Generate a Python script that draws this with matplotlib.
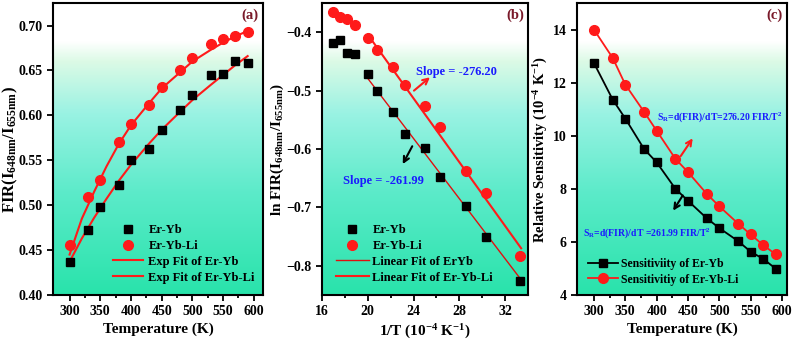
import numpy as np
import matplotlib
matplotlib.use("Agg")
import matplotlib.pyplot as plt
from matplotlib.colors import LinearSegmentedColormap

plt.rcParams['font.family'] = 'Liberation Serif'
plt.rcParams['font.weight'] = 'bold'
plt.rcParams['axes.labelweight'] = 'bold'
plt.rcParams['mathtext.fontset'] = 'custom'
plt.rcParams['mathtext.rm'] = 'Liberation Serif:bold'
plt.rcParams['mathtext.it'] = 'Liberation Serif:italic:bold'
plt.rcParams['mathtext.bf'] = 'Liberation Serif:bold'

# temperatures (K)
temp = [300, 330, 350, 380, 400, 430, 450, 480, 500, 530, 550, 570, 590]

# (a) FIR
fir_eryb = [0.437, 0.472, 0.498, 0.523, 0.550, 0.563, 0.584, 0.606, 0.623, 0.645, 0.646, 0.661, 0.658]
fir_erybli = [0.456, 0.509, 0.528, 0.570, 0.590, 0.611, 0.632, 0.650, 0.664, 0.679, 0.685, 0.688, 0.693]
fit_t = [300, 320, 340, 360, 380, 400, 430, 450, 480, 500, 530, 550, 570, 590]
fit_eryb = [0.437, 0.463, 0.486, 0.507, 0.527, 0.545, 0.569, 0.584, 0.604, 0.617, 0.634, 0.645, 0.656, 0.666]
fit_erybli = [0.445, 0.485, 0.515, 0.543, 0.568, 0.589, 0.614, 0.630, 0.648, 0.660, 0.673, 0.681, 0.688, 0.694]

# (b) ln FIR vs 1/T
inv_t = [33.33, 30.30, 28.57, 26.32, 25.00, 23.26, 22.22, 20.83, 20.00, 18.87, 18.18, 17.54, 16.95]
ln_eryb = [-0.826, -0.750, -0.697, -0.648, -0.598, -0.574, -0.537, -0.500, -0.472, -0.438, -0.436, -0.414, -0.418]
ln_erybli = [-0.784, -0.675, -0.638, -0.562, -0.527, -0.491, -0.459, -0.430, -0.410, -0.387, -0.378, -0.374, -0.366]
lin_x = [20.0, 33.4]
lin_eryb = [-0.479, -0.824]
lin_erybli = [-0.404, -0.770]

# (c) relative sensitivity
sr_eryb = [12.74, 11.36, 10.65, 9.50, 9.00, 8.00, 7.55, 6.89, 6.52, 6.03, 5.63, 5.36, 4.99]
sr_erybli = [14.00, 12.93, 11.93, 10.90, 10.19, 9.13, 8.63, 7.81, 7.34, 6.69, 6.28, 5.88, 5.53]

red = '#ff1a1a'
maroon = '#7a1a2a'
blue = '#1a1aff'

bg = LinearSegmentedColormap.from_list('bg', [
    (0.0, (0.16, 0.89, 0.67)),
    (0.35, (0.36, 0.92, 0.79)),
    (0.62, (0.60, 0.95, 0.89)),
    (0.80, (0.86, 0.98, 0.90)),
    (0.87, (1.0, 1.0, 1.0)),
    (1.0, (1.0, 1.0, 1.0))])


def style_axes(ax):
    grad = np.linspace(0, 1, 256).reshape(-1, 1)
    ax.imshow(grad, cmap=bg, origin='lower', aspect='auto', extent=[0, 1, 0, 1],
              transform=ax.transAxes, zorder=0)
    for s in ax.spines.values():
        s.set_linewidth(1.5)
    ax.tick_params(which='both', direction='out', width=1.3, labelsize=10)
    ax.tick_params(which='major', length=4)
    ax.tick_params(which='minor', length=2.5)
    ax.tick_params(axis='y', which='minor', left=False)


def bold_ticks(ax):
    for lab in ax.get_xticklabels() + ax.get_yticklabels():
        lab.set_fontweight('bold')


fig = plt.figure(figsize=(7.97, 3.45), dpi=100)

# ---- (a)
ax1 = fig.add_axes([0.0665, 0.145, 0.2635, 0.846])
style_axes(ax1)
ax1.plot(temp, fir_eryb, 's', color='black', ms=6, label='Er-Yb', zorder=3)
ax1.plot(temp, fir_erybli, 'o', color=red, ms=7, label='Er-Yb-Li', zorder=3)
ax1.plot(fit_t, fit_eryb, '-', color=red, lw=1.5, label='Exp Fit of Er-Yb', zorder=2)
ax1.plot(fit_t, fit_erybli, '-', color=red, lw=1.5, label='Exp Fit of Er-Yb-Li', zorder=2)
ax1.set_xlim(273, 615)
ax1.set_ylim(0.40, 0.725)
ax1.set_xticks([300, 350, 400, 450, 500, 550, 600])
ax1.set_xticks(np.arange(325, 600, 50), minor=True)
ax1.set_yticks([0.40, 0.45, 0.50, 0.55, 0.60, 0.65, 0.70])
ax1.set_yticklabels(['%.2f' % v for v in [0.40, 0.45, 0.50, 0.55, 0.60, 0.65, 0.70]])
bold_ticks(ax1)
ax1.set_xlabel('Temperature (K)', fontsize=11, fontweight='bold', labelpad=3)
ax1.set_ylabel(r'FIR(I$_{\mathrm{648nm}}$/I$_{\mathrm{655nm}}$)', fontsize=12,
               fontweight='bold')
ax1.yaxis.set_label_coords(-0.155, 0.5)
ax1.text(0.94, 0.96, '(a)', transform=ax1.transAxes, color=maroon, fontsize=10.5,
         fontweight='bold', ha='center', va='center')
ax1.legend(loc='lower left', bbox_to_anchor=(0.24, 0.005), frameon=False,
           prop={'weight': 'bold', 'size': 9},
           handlelength=2.4, handletextpad=0.4, labelspacing=0.3, borderpad=0.3)

# ---- (b)
ax2 = fig.add_axes([0.404, 0.145, 0.2585, 0.846])
style_axes(ax2)
ax2.plot(inv_t, ln_eryb, 's', color='black', ms=6, label='Er-Yb', zorder=3)
ax2.plot(inv_t, ln_erybli, 'o', color=red, ms=7, label='Er-Yb-Li', zorder=3)
ax2.plot(lin_x, lin_eryb, '-', color='#e01010', lw=1.0, label='Linear Fit of ErYb', zorder=2)
ax2.plot(lin_x, lin_erybli, '-', color=red, lw=1.5, label='Linear Fit of Er-Yb-Li', zorder=2)
ax2.set_xlim(16, 34)
ax2.set_ylim(-0.85, -0.35)
ax2.set_xticks([16, 20, 24, 28, 32])
ax2.set_xticks([18, 22, 26, 30], minor=True)
ax2.set_yticks([-0.8, -0.7, -0.6, -0.5, -0.4])
bold_ticks(ax2)
ax2.set_xlabel(r'1/T (10$^{-4}$ K$^{-1}$)', fontsize=11, fontweight='bold', labelpad=3)
ax2.set_ylabel(r'ln FIR(I$_{\mathrm{648nm}}$/I$_{\mathrm{655nm}}$)', fontsize=11,
               fontweight='bold')
ax2.yaxis.set_label_coords(-0.175, 0.5)
ax2.text(0.94, 0.96, '(b)', transform=ax2.transAxes, color=maroon, fontsize=10.5,
         fontweight='bold', ha='center', va='center')
ax2.text(24.2, -0.468, 'Slope = -276.20', color=blue, fontsize=9, fontweight='bold',
         ha='left', va='center')
ax2.annotate('', xy=(25.62, -0.474), xytext=(23.85, -0.503),
             arrowprops=dict(arrowstyle='->', color=red, lw=1.5))
ax2.text(21.34, -0.654, 'Slope = -261.99', color=blue, fontsize=9, fontweight='bold',
         ha='center', va='center')
ax2.annotate('', xy=(22.94, -0.630), xytext=(24.0, -0.591),
             arrowprops=dict(arrowstyle='->', color='black', lw=1.5))
ax2.legend(loc='lower left', bbox_to_anchor=(0.02, 0.005), frameon=False,
           prop={'weight': 'bold', 'size': 9},
           handlelength=2.6, handletextpad=0.3, labelspacing=0.3, borderpad=0.3)

# ---- (c)
ax3 = fig.add_axes([0.724, 0.145, 0.2635, 0.846])
style_axes(ax3)
ax3.plot(temp, sr_eryb, '-s', color='black', ms=6, lw=1.3, label='Sensitiviity of Er-Yb', zorder=3)
ax3.plot(temp, sr_erybli, '-o', color=red, ms=7, lw=1.3, label='Sensitivitiy of Er-Yb-Li', zorder=3)
ax3.set_xlim(273, 608)
ax3.set_ylim(4, 15)
ax3.set_xticks([300, 350, 400, 450, 500, 550, 600])
ax3.set_xticks(np.arange(325, 600, 50), minor=True)
ax3.set_yticks([4, 6, 8, 10, 12, 14])
bold_ticks(ax3)
ax3.set_xlabel('Temperature (K)', fontsize=11, fontweight='bold', labelpad=3)
ax3.set_ylabel(r'Relative Sensitivity (10$^{-4}$ K$^{-1}$)', fontsize=10.5,
               fontweight='bold')
ax3.yaxis.set_label_coords(-0.13, 0.5)
ax3.text(0.94, 0.96, '(c)', transform=ax3.transAxes, color=maroon, fontsize=10.5,
         fontweight='bold', ha='center', va='center')
ax3.text(401, 10.71, r'S$_\mathrm{R}$=d(FIR)/dT=276.20 FIR/T$^2$', color=blue, fontsize=7,
         fontweight='bold', ha='left', va='center')
ax3.annotate('', xy=(460, 9.99), xytext=(436, 9.15),
             arrowprops=dict(arrowstyle='->', color=red, lw=1.5))
ax3.text(282.5, 6.34, r'S$_\mathrm{R}$=d(FIR)/dT =261.99 FIR/T$^2$', color=blue, fontsize=7,
         fontweight='bold', ha='left', va='center')
ax3.annotate('', xy=(424, 7.09), xytext=(444, 7.84),
             arrowprops=dict(arrowstyle='->', color='black', lw=1.5))
ax3.legend(loc='lower left', bbox_to_anchor=(0.005, 0.0), frameon=False,
           prop={'weight': 'bold', 'size': 8.5},
           handlelength=2.6, handletextpad=0.2, labelspacing=0.3, borderpad=0.3)

fig.savefig('out.png', dpi=100)
